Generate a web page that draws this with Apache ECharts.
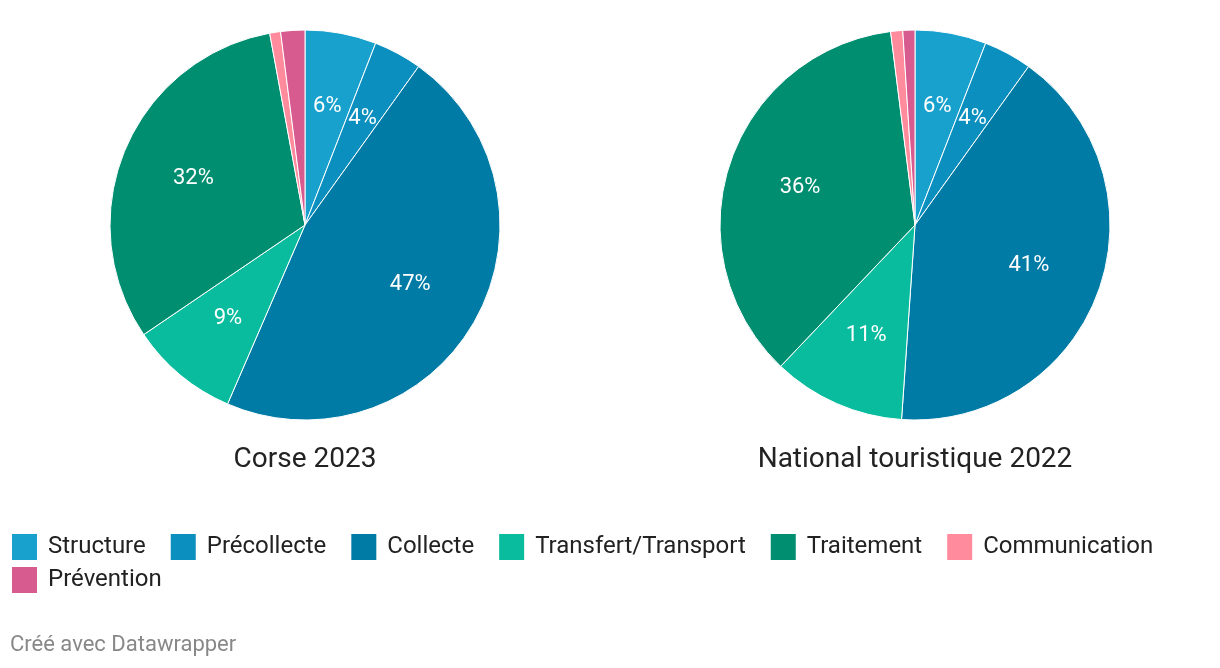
<!DOCTYPE html>
<html><head><meta charset="utf-8">
<script src="https://cdn.jsdelivr.net/npm/echarts@6/dist/echarts.min.js"></script>
<style>html,body{margin:0;padding:0;background:#fff}#c{width:1220px;height:668px}</style>
</head><body><div id="c"></div>
<script>
const categories = ['Structure','Précollecte','Collecte','Transfert/Transport','Traitement','Communication','Prévention'];
const colors = ['#18a1cd','#0a8fbe','#007ba5','#09bc9e','#008e71','#ff8b9d','#d75b8f'];
const corse2023 = [5.9, 4.0, 46.6, 9.0, 31.6, 0.9, 2.0];
const national2022 = [5.9, 4.0, 41.2, 11.0, 35.9, 1.0, 1.0];
const titles = ['Corse 2023', 'National touristique 2022'];
const minLabel = 3;

const FONT = 'Roboto, "Noto Sans", sans-serif';
const R = 195;
function mkData(vals, transparent){
  return categories.map((c,i)=>({name:c, value:vals[i], itemStyle:{color: transparent ? 'rgba(0,0,0,0)' : colors[i]}}));
}
function pies(vals, cx){
  return [
    {type:'pie', center:[cx,225], radius:[0,R], startAngle:90, clockwise:true, silent:true,
     itemStyle:{borderColor:'#fff', borderWidth:1}, label:{show:false}, labelLine:{show:false},
     data: mkData(vals,false)},
    {type:'pie', center:[cx,225], radius:[0,R*1.21], startAngle:90, clockwise:true, silent:true,
     itemStyle:{borderWidth:0}, labelLine:{show:false},
     label:{show:true, position:'inside', color:'#fff', fontFamily:FONT, fontSize:22,
       formatter: p => p.value >= minLabel ? Math.round(p.value)+'%' : ''},
     data: mkData(vals,true)}
  ];
}
const legendBase = {
  orient:'horizontal', itemWidth:27, itemHeight:28, itemGap:23, icon:'rect',
  textStyle:{fontFamily:FONT, fontSize:24, color:'#222', padding:[0,0,0,5]},
  padding:0, selectedMode:false
};
const legendItems = categories.map((c,i)=>({name:c, itemStyle:{color:colors[i]}}));
const chart = echarts.init(document.getElementById('c'), null, {renderer:'canvas'});
chart.setOption({
  animation:false,
  title:[
    {text:titles[0], left:305, top:446, padding:0, textAlign:'center', textStyle:{fontFamily:FONT, fontSize:28, fontWeight:'normal', color:'#222'}},
    {text:titles[1], left:915, top:446, padding:0, textAlign:'center', textStyle:{fontFamily:FONT, fontSize:28, fontWeight:'normal', color:'#222'}},
    {text:'Créé avec Datawrapper', left:10, top:634, padding:0, textStyle:{fontFamily:FONT, fontSize:22, fontWeight:'normal', color:'#888'}}
  ],
  legend:[
    Object.assign({}, legendBase, {data: legendItems.slice(0,6), left:10, top:532}),
    Object.assign({}, legendBase, {data: legendItems.slice(6), left:10, top:565})
  ],
  series:[...pies(corse2023,305), ...pies(national2022,915)]
});
</script></body></html>
